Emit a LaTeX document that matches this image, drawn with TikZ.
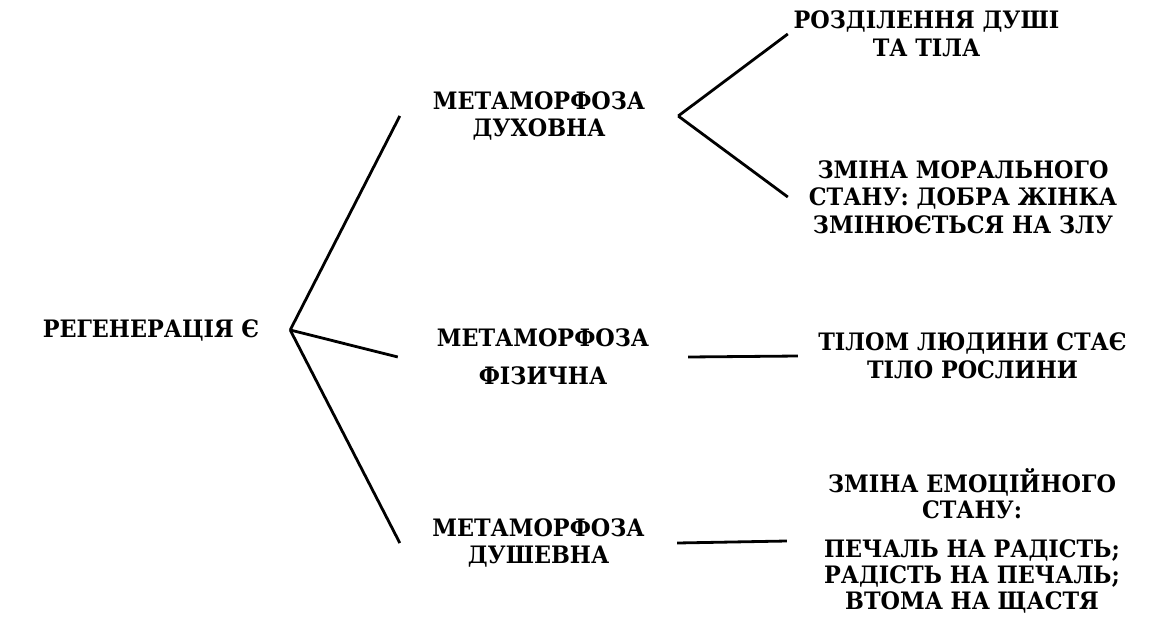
\documentclass[tikz,border=0pt]{standalone}
\usepackage{fontspec}
\setmainfont{DejaVu Serif}[FakeStretch=0.93]
\begin{document}
\begin{tikzpicture}[x=1pt,y=-1pt]
\tikzset{
  box/.style={draw=none, inner sep=0pt, align=center,
    font=\fontsize{24}{27.5}\selectfont\bfseries},
  link/.style={line width=2.8pt, black}
}
\useasboundingbox[fill=white] (0,0) rectangle (1155,637);

% root
\node[box, minimum width=278pt, minimum height=134pt] (root) at (151,330) {РЕГЕНЕРАЦІЯ Є};

% second level
\node[box, minimum width=278pt, minimum height=132pt] (spirit) at (539,116) {МЕТАМОРФОЗА\\ДУХОВНА};
\node[box, minimum width=290pt, minimum height=134pt] (body) at (543,357) {МЕТАМОРФОЗА\\[10.5pt]ФІЗИЧНА};
\node[box, minimum width=277pt, minimum height=137pt] (soul) at (538.5,543) {МЕТАМОРФОЗА\\ДУШЕВНА};

% third level
\node[box, minimum width=277pt, minimum height=136pt] (split) at (926.5,34) {РОЗДІЛЕННЯ ДУШІ\\ТА ТІЛА};
\node[box, minimum width=350pt, minimum height=136pt] (moral) at (963,197) {ЗМІНА МОРАЛЬНОГО\\СТАНУ: ДОБРА ЖІНКА\\ЗМІНЮЄТЬСЯ НА ЗЛУ};
\node[box, minimum width=349pt, minimum height=122pt] (plant) at (972.5,356) {ТІЛОМ ЛЮДИНИ СТАЄ\\ТІЛО РОСЛИНИ};
\node[box, minimum width=370pt, minimum height=194pt,
      font=\fontsize{24}{26}\selectfont\bfseries] (mood) at (972,541)
  {ЗМІНА ЕМОЦІЙНОГО\\СТАНУ:\\[13pt]ПЕЧАЛЬ НА РАДІСТЬ;\\РАДІСТЬ НА ПЕЧАЛЬ;\\ВТОМА НА ЩАСТЯ};

% connectors
\draw[link] (root.east) -- (spirit.west);
\draw[link] (root.east) -- (body.west);
\draw[link] (root.east) -- (soul.west);
\draw[link] (spirit.east) -- (split.west);
\draw[link] (spirit.east) -- (moral.west);
\draw[link] (body.east) -- (plant.west);
\draw[link] (soul.east) -- (mood.west);
\end{tikzpicture}
\end{document}
